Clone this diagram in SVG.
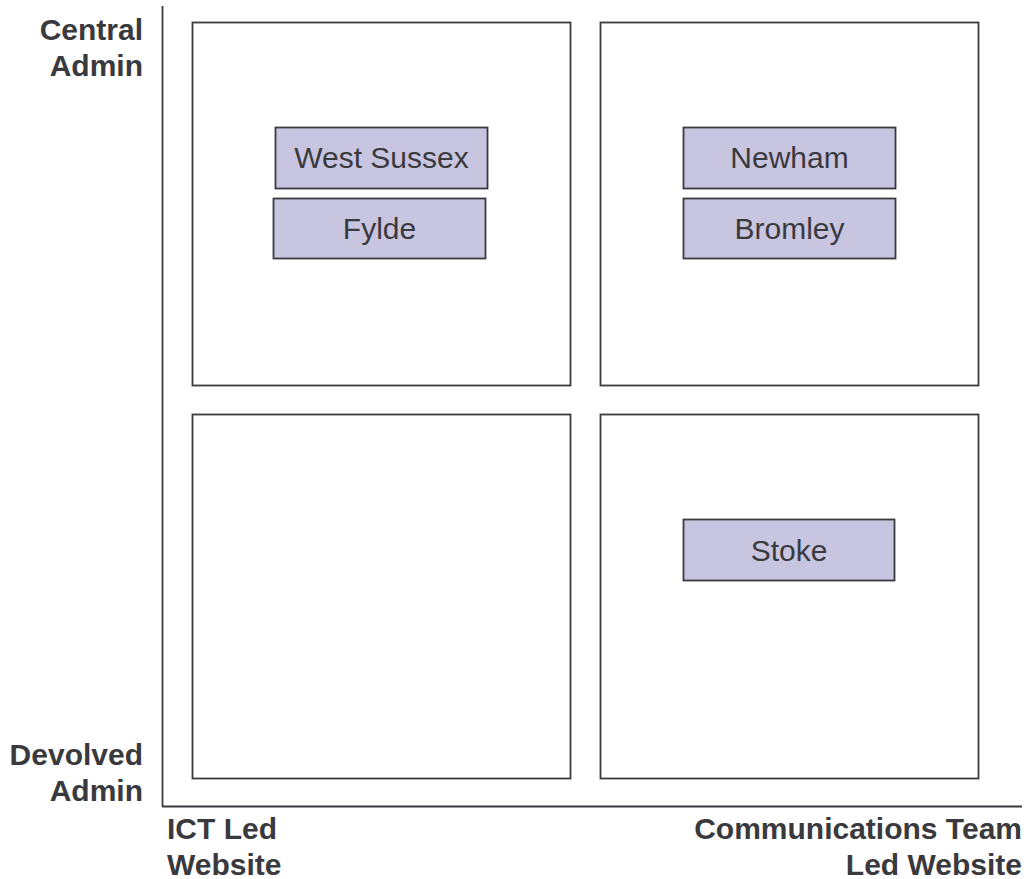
<svg xmlns="http://www.w3.org/2000/svg" width="1032" height="879" viewBox="0 0 1032 879">
<style>
.quad{fill:#ffffff;stroke:#3a3a3e;stroke-width:1.8}
.box{fill:#c8c5e1;stroke:#3a3a3e;stroke-width:1.8}
.axis{stroke:#3a3a3e;stroke-width:1.8;fill:none}
.lbl{font-family:"Liberation Sans",Arial,sans-serif;font-size:30px;font-weight:bold;fill:#3a3a3e}
.btxt{font-family:"Liberation Sans",Arial,sans-serif;font-size:30px;fill:#3a3a3e;text-anchor:middle}
</style>
<rect width="1032" height="879" fill="#ffffff"/>
<g id="axes">
<line class="axis" x1="162.5" y1="6" x2="162.5" y2="806.5"/>
<line class="axis" x1="162" y1="806.5" x2="1022" y2="806.5"/>
</g>
<g id="quadrants">
<rect id="q-tl" class="quad" x="192.5" y="22.5" width="378" height="363"/>
<rect id="q-tr" class="quad" x="600.5" y="22.5" width="378" height="363"/>
<rect id="q-bl" class="quad" x="192.5" y="414.5" width="378" height="364"/>
<rect id="q-br" class="quad" x="600.5" y="414.5" width="378" height="364"/>
</g>
<g id="connectors"></g>
<g id="west-sussex"><rect class="box" x="275.5" y="127.5" width="212" height="61"/><text class="btxt" x="381.5" y="168">West Sussex</text></g>
<g id="fylde"><rect class="box" x="273.5" y="198.5" width="212" height="60"/><text class="btxt" x="379.5" y="239">Fylde</text></g>
<g id="newham"><rect class="box" x="683.5" y="127.5" width="212" height="61"/><text class="btxt" x="789.5" y="168">Newham</text></g>
<g id="bromley"><rect class="box" x="683.5" y="198.5" width="212" height="60"/><text class="btxt" x="789.5" y="239">Bromley</text></g>
<g id="stoke"><rect class="box" x="683.5" y="519.5" width="211" height="61"/><text class="btxt" x="789" y="561">Stoke</text></g>
<g id="label-central"><text class="lbl" text-anchor="end" x="143" y="40">Central</text><text class="lbl" text-anchor="end" x="143" y="76">Admin</text></g>
<g id="label-devolved"><text class="lbl" text-anchor="end" x="143" y="765">Devolved</text><text class="lbl" text-anchor="end" x="143" y="801">Admin</text></g>
<g id="label-ict"><text class="lbl" x="167" y="839">ICT Led</text><text class="lbl" x="167" y="875">Website</text></g>
<g id="label-comms"><text class="lbl" text-anchor="end" x="1022" y="839">Communications Team</text><text class="lbl" text-anchor="end" x="1022" y="875">Led Website</text></g>
</svg>
